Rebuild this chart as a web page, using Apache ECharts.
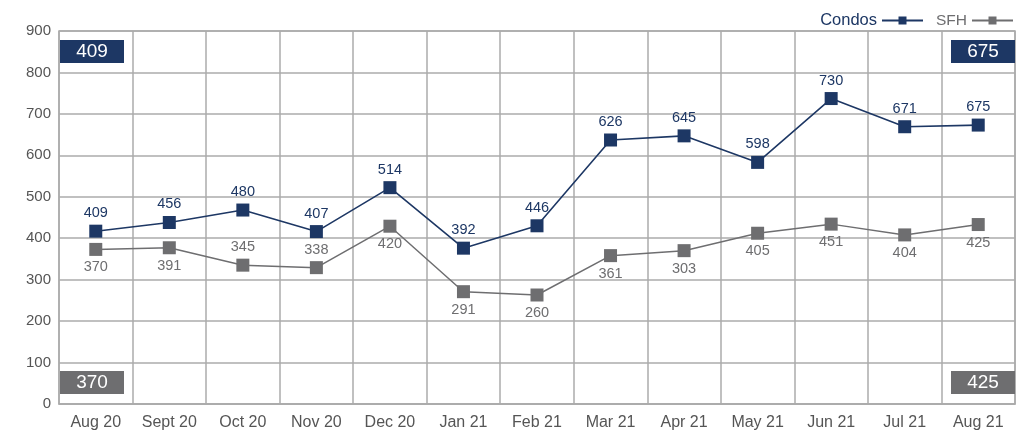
<!DOCTYPE html>
<html><head><meta charset="utf-8">
<script src="https://cdn.jsdelivr.net/npm/echarts@6/dist/echarts.min.js"></script>
<style>html,body{margin:0;padding:0;background:#fff}#c{width:1024px;height:440px}</style>
</head><body><div id="c"></div>
<script>
const categories = ['Aug 20','Sept 20','Oct 20','Nov 20','Dec 20','Jan 21','Feb 21','Mar 21','Apr 21','May 21','Jun 21','Jul 21','Aug 21'];
// plotted positions
const condosValues = [417, 438, 468, 416, 522, 376, 430, 637, 647, 583, 737, 669, 673];
const sfhValues    = [373, 377, 335, 329, 429, 271, 263, 358, 370, 412, 434, 408, 433];
// printed data labels
const condosLabels = ['409','456','480','407','514','392','446','626','645','598','730','671','675'];
const sfhLabels    = ['370','391','345','338','420','291','260','361','303','405','451','404','425'];
const yTicks = [0,100,200,300,400,500,600,700,800,900];

const NAVY = '#1d3764', GRAY = '#6e6e70', GRID = '#ababab';
const FONT = '"Liberation Sans", Arial, sans-serif';
const sfhAbove = {2:true, 3:true};

const chart = echarts.init(document.getElementById('c'), null, {renderer:'canvas'});
const G = {left:59, right:9, top:31, bottom:36};

function box(x, y, txt, color){
  return [
    {type:'rect', left:x, top:y, shape:{width:64, height:23}, style:{fill:color}, z:5},
    {type:'text', x:x+32, y:y+12, style:{text:txt, fill:'#fff', font:'19px '+FONT, textAlign:'center', textVerticalAlign:'middle'}, z:6}
  ];
}

chart.setOption({
  animation:false,
  textStyle:{fontFamily:FONT},
  grid:{left:G.left, right:G.right, top:G.top, bottom:G.bottom, show:true, borderColor:GRID, borderWidth:1.5},
  legend:{
    right:5, top:7, align:'right', itemWidth:41, itemHeight:10, itemGap:12,
    data:[
      {name:'Condos', textStyle:{color:NAVY, fontSize:16.5}},
      {name:'SFH', textStyle:{color:GRAY, fontSize:15.5}}
    ]
  },
  xAxis:{
    type:'category', data:categories, boundaryGap:true,
    axisLine:{show:true, lineStyle:{color:GRID, width:1.5}},
    axisTick:{show:false},
    axisLabel:{color:'#555', fontSize:16, margin:11, interval:0},
    splitLine:{show:true, interval:0, lineStyle:{color:GRID, width:1.5}}
  },
  yAxis:{
    type:'value', min:yTicks[0], max:yTicks[yTicks.length-1], interval:100,
    axisLine:{show:false}, axisTick:{show:false},
    axisLabel:{color:'#555', fontSize:15, margin:8},
    splitLine:{show:true, lineStyle:{color:GRID, width:1.5}}
  },
  series:[
    {
      name:'Condos', type:'line', data:condosValues, symbol:'rect', symbolSize:13,
      lineStyle:{color:NAVY, width:1.6}, itemStyle:{color:NAVY}, z:4,
      label:{show:true, position:'top', distance:4, color:NAVY, fontSize:14.5,
        formatter:p=>condosLabels[p.dataIndex]}
    },
    {
      name:'SFH', type:'line', data:sfhValues.map((v,i)=>({value:v, label:{position: sfhAbove[i]?'top':'bottom'}})),
      symbol:'rect', symbolSize:13,
      lineStyle:{color:GRAY, width:1.5}, itemStyle:{color:GRAY}, z:3,
      label:{show:true, position:'bottom', distance:4, color:GRAY, fontSize:14.5,
        formatter:p=>sfhLabels[p.dataIndex]}
    }
  ],
  graphic:[].concat(
    box(60, 40, condosLabels[0], NAVY),
    box(951, 40, condosLabels[condosLabels.length-1], NAVY),
    box(60, 371, sfhLabels[0], GRAY),
    box(951, 371, sfhLabels[sfhLabels.length-1], GRAY)
  )
});
</script></body></html>
